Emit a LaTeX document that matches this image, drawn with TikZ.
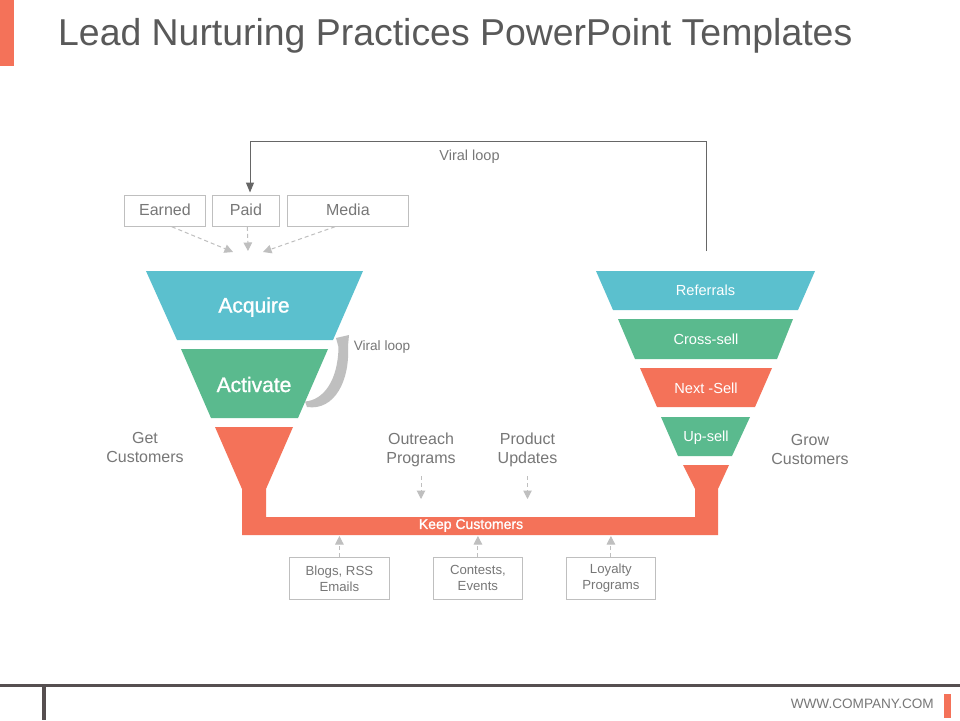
\documentclass[tikz,border=0pt]{standalone}
\usepackage{fontspec}
\setmainfont{Liberation Sans}
\newfontfamily\fakebold[FakeBold=1.2]{Liberation Sans}
\usetikzlibrary{arrows.meta,calc}
\definecolor{tealc}{HTML}{5BC0CE}
\definecolor{greenc}{HTML}{5ABA8E}
\definecolor{redc}{HTML}{F47259}
\definecolor{greyt}{HTML}{777777}
\definecolor{titlec}{HTML}{595959}
\definecolor{boxl}{HTML}{BFBFBF}
\definecolor{darkb}{HTML}{564F50}
\tikzset{
  lbl/.style={text=greyt,align=center,inner sep=0pt,font=\fontsize{16}{19}\selectfont},
  wlbl/.style={text=white,inner sep=0pt,font=\fontsize{14.6}{18}\selectfont},
  bigw/.style={text=white,inner sep=0pt,anchor=base,font=\fakebold\fontsize{21}{24}\selectfont},
  pbox/.style={draw=boxl,line width=.8pt,text=greyt,inner sep=0pt,align=center,anchor=north west},
  topbox/.style={pbox,minimum height=31pt,text height=12pt,text depth=3pt,font=\fontsize{16}{19}\selectfont},
  lowbox/.style={pbox,minimum height=42pt,font=\fontsize{13.2}{16}\selectfont},
  dasharrow/.style={draw=boxl,dashed,dash pattern=on 4pt off 3pt,line width=1pt,-{Triangle[length=8.5pt,width=8.5pt]}},
  looparrow/.style={draw=black!60,line width=1pt,-{Triangle[length=10pt,width=8pt]}}
}
\begin{document}
\begin{tikzpicture}[x=1pt,y=-1pt]
\useasboundingbox (0,0) rectangle (960,720);
\fill[white] (0,0) rectangle (960,720);
% header and footer
\fill[redc] (0,0) rectangle (14,66);
\node[anchor=base west,inner sep=0pt,text=titlec,font=\fontsize{37.4}{40}\selectfont] (title) at (58,45) {Lead Nurturing Practices PowerPoint Templates};
\fill[darkb] (0,684) rectangle (960,687);
\fill[darkb] (42,687) rectangle (46,720);
\fill[redc] (944,694) rectangle (951,718);
\node[anchor=base east,inner sep=0pt,text=greyt,font=\fontsize{13.6}{16}\selectfont] (web) at (934,708) {WWW.COMPANY.COM};
% left funnel
\fill[tealc] (146,271) -- (363,271) -- (333,340) -- (177,340) -- cycle;
\fill[greenc] (181,349) -- (328,349) -- (298,418) -- (211,418) -- cycle;
\node[bigw] (acquire) at (254,312.5) {Acquire};
\node[bigw] (activate) at (254,392) {Activate};
% red pipe
\fill[redc] (215,427) -- (293,427) -- (266,489) -- (266,517) -- (695,517) -- (695,489) -- (683,465) -- (729,465) -- (718,489) -- (718,535) -- (242,535) -- (242,489) -- cycle;
\node[text=white,inner sep=0pt,font=\fakebold\fontsize{14}{16}\selectfont] (keep) at (471,525.5) {Keep Customers};
% right funnel
\fill[tealc] (596,271) -- (815,271) -- (798,310) -- (613,310) -- cycle;
\fill[greenc] (618,319) -- (793,319) -- (777,359) -- (635,359) -- cycle;
\fill[redc] (640,368) -- (772,368) -- (755,407) -- (657,407) -- cycle;
\fill[greenc] (661,417) -- (750,417) -- (732,456) -- (678,456) -- cycle;
\node[wlbl] (referrals) at (705.5,290) {Referrals};
\node[wlbl] (cross) at (706,339) {Cross-sell};
\node[wlbl] (next) at (706,388) {Next -Sell};
\node[wlbl] (up) at (706,437.5) {Up-sell};
% top boxes
\node[topbox,minimum width=81pt] (earned) at (124,195) {Earned};
\node[topbox,minimum width=67pt] (paid) at (212,195) {Paid};
\node[topbox,minimum width=121pt] (media) at (287,195) {Media};
% bottom boxes
\node[lowbox,minimum width=100pt] (blogs) at (289,557) {Blogs, RSS\\Emails};
\node[lowbox,minimum width=89pt] (contests) at (433,557) {Contests,\\Events};
\node[lowbox,minimum width=89pt] (loyalty) at (566,557) {Loyalty\\Programs};
% labels
\node[lbl] (getc) at (145,447) {Get\\Customers};
\node[lbl] (growc) at (810,449) {Grow\\Customers};
\node[lbl] (outreach) at (421,450) {Outreach\\Programs};
\node[lbl] (product) at (527.5,450) {Product\\Updates};
\node[lbl,font=\fontsize{14.5}{17}\selectfont] (vtop) at (469.5,157) {Viral loop};
\node[lbl,font=\fontsize{13.6}{17}\selectfont] (vside) at (382,347) {Viral loop};
% viral loop connector
\coordinate (vstart) at (706,251);
\coordinate (vend) at (250,192.5);
\draw[looparrow] (vstart) -- (706,141) -- (250,141) -- (vend);
% dashed arrows
\coordinate (ea) at (233,252);
\coordinate (pa) at (248,251);
\coordinate (ma) at (263,252);
\coordinate (bar) at (0,536);
\draw[dasharrow] ($(earned.south)+(7,0)$) -- (ea);
\draw[dasharrow] ($(paid.south)+(1.5,0)$) -- (pa);
\draw[dasharrow] ($(media.south)+(-13,0)$) -- (ma);
\draw[dasharrow,shorten <=9pt] (outreach.south) -- (outreach.south |- 0,499);
\draw[dasharrow,shorten <=9pt] (product.south) -- (product.south |- 0,499);
\draw[dasharrow] (blogs.north) -- (blogs.north |- bar);
\draw[dasharrow] (contests.north) -- (contests.north |- bar);
\draw[dasharrow] (loyalty.north) -- (loyalty.north |- bar);
% curved grey arrow
\fill[boxl] (305,401.5) .. controls (324,400) and (338,380) .. (338.5,347)
  -- (336,338) -- (349,335) -- (348,346)
  .. controls (350,380) and (335,411) .. (307,407) -- cycle;
\end{tikzpicture}
\end{document}
